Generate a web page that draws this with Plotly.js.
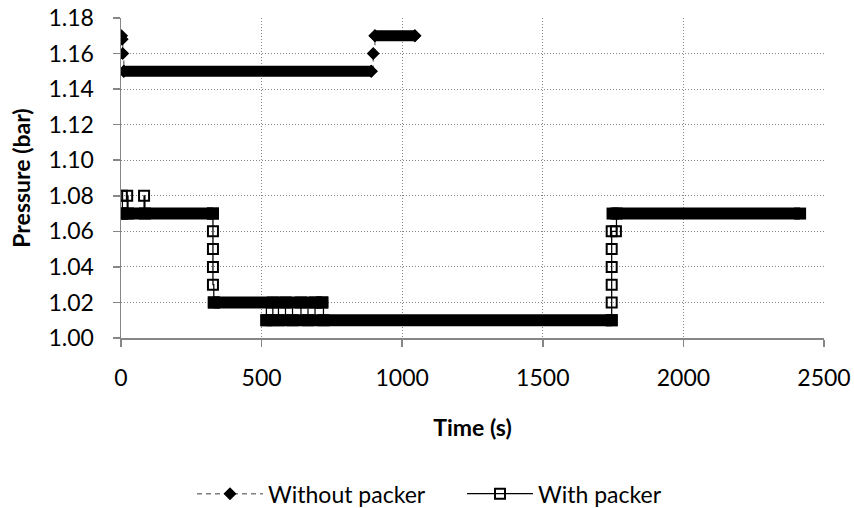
<!DOCTYPE html>
<html>
<head>
<meta charset="utf-8">
<script src="https://cdn.plot.ly/plotly-3.0.1.min.js"></script>
<style>html,body{margin:0;padding:0;background:#fff;}#chart{width:854px;height:508px;}</style>
</head>
<body>
<div id="chart"></div>
<script>
// ---- Data ----
// Without packer: sampled transition points (time s, pressure bar)
const woTime     = [2, 4, 6, 10, 890, 897, 903, 1045];
const woPressure = [1.170, 1.168, 1.160, 1.150, 1.150, 1.160, 1.170, 1.170];
// Without packer: long constant-pressure runs (dense overlapping markers)
const woRunStart = [10, 903];
const woRunEnd   = [890, 1045];
const woRunValue = [1.15, 1.17];

// With packer: sampled transition points
const wpTime     = [3, 5, 22, 25, 82, 85, 327, 327, 327, 327, 327, 330,
                    517, 540, 560, 585, 610, 640, 665, 690, 716, 720,
                    1745, 1745, 1745, 1745, 1745, 1745, 1760, 1762];
const wpPressure = [1.08, 1.07, 1.08, 1.07, 1.08, 1.07, 1.07, 1.06, 1.05, 1.04, 1.03, 1.02,
                    1.01, 1.02, 1.01, 1.02, 1.01, 1.02, 1.01, 1.02, 1.02, 1.01,
                    1.01, 1.02, 1.03, 1.04, 1.05, 1.06, 1.06, 1.07];
// With packer: long constant-pressure runs
const wpRunStart = [3, 330, 517, 1748];
const wpRunEnd   = [327, 716, 1745, 2415];
const wpRunValue = [1.07, 1.02, 1.01, 1.07];

const xTicks = [0, 500, 1000, 1500, 2000, 2500];
const yTicks = [1.00, 1.02, 1.04, 1.06, 1.08, 1.10, 1.12, 1.14, 1.16, 1.18];

function runsToXY(starts, ends, vals) {
  const x = [], y = [];
  for (let i = 0; i < starts.length; i++) {
    x.push(starts[i], ends[i], null);
    y.push(vals[i], vals[i], null);
  }
  return {x, y};
}
const woRuns = runsToXY(woRunStart, woRunEnd, woRunValue);
const wpRuns = runsToXY(wpRunStart, wpRunEnd, wpRunValue);

const FONT = 'Lato, "DejaVu Sans", sans-serif';
const GREY = '#868686';
const FS = 23;

const traces = [
  {
    x: woTime, y: woPressure, type: 'scatter', mode: 'lines+markers',
    name: 'Without packer',
    line: {color: '#7f7f7f', width: 1.5, dash: '5px,4px', shape: 'hv'},
    marker: {symbol: 'diamond', size: 10, color: '#000'}
  },
  { // without packer runs
    x: woRuns.x, y: woRuns.y, type: 'scatter', mode: 'lines+markers',
    line: {color: '#000', width: 11},
    marker: {symbol: 'diamond', size: 10, color: '#000'},
    showlegend: false, hoverinfo: 'skip', connectgaps: false
  },
  {
    x: wpTime, y: wpPressure, type: 'scatter', mode: 'lines+markers',
    name: 'With packer',
    line: {color: '#000', width: 1.25, shape: 'hv'},
    marker: {symbol: 'square-open', size: 10, color: '#000', line: {width: 2, color: '#000'}}
  },
  { // with packer runs
    x: wpRuns.x, y: wpRuns.y, type: 'scatter', mode: 'lines+markers',
    line: {color: '#000', width: 12},
    marker: {symbol: 'square', size: 12, color: '#000'},
    showlegend: false, hoverinfo: 'skip', connectgaps: false
  }
];

const layout = {
  width: 854, height: 508,
  margin: {l: 121, r: 30, t: 18, b: 170},
  paper_bgcolor: '#fff', plot_bgcolor: '#fff',
  font: {family: FONT, size: FS, color: '#000'},
  showlegend: true,
  legend: {
    orientation: 'h', xref: 'paper', yref: 'container',
    x: 0.101, xanchor: 'left', y: 0.028, yanchor: 'middle',
    entrywidth: 189, entrywidthmode: 'pixels',
    font: {family: FONT, size: FS, color: '#000'}, itemwidth: 66, bgcolor: 'rgba(0,0,0,0)'
  },
  xaxis: {
    range: [0, 2500], tickvals: xTicks, ticktext: xTicks.map(String),
    showgrid: true, gridcolor: GREY, gridwidth: 1, griddash: '1px,2px',
    showline: true, linecolor: GREY, linewidth: 1.5,
    ticks: 'outside', ticklen: 7, tickwidth: 1.5, tickcolor: GREY,
    ticklabelstandoff: 12, zeroline: false,
    tickfont: {family: FONT, size: FS, color: '#000'},
    title: {text: '<b>Time (s)</b>', font: {family: FONT, size: FS, color: '#000'}, standoff: 30}
  },
  yaxis: {
    range: [1.00, 1.18], tickvals: yTicks, ticktext: yTicks.map(v => v.toFixed(2)),
    showgrid: true, gridcolor: GREY, gridwidth: 1, griddash: '1px,2px',
    showline: true, linecolor: GREY, linewidth: 1.5,
    ticks: 'outside', ticklen: 7, tickwidth: 1.5, tickcolor: GREY,
    ticklabelstandoff: 14, zeroline: false,
    tickfont: {family: FONT, size: FS, color: '#000'},
    title: {text: '<b>Pressure (bar)</b>', font: {family: FONT, size: FS, color: '#000'}, standoff: 11}
  }
};

Plotly.newPlot('chart', traces, layout, {displayModeBar: false, staticPlot: true});
</script>
</body>
</html>
